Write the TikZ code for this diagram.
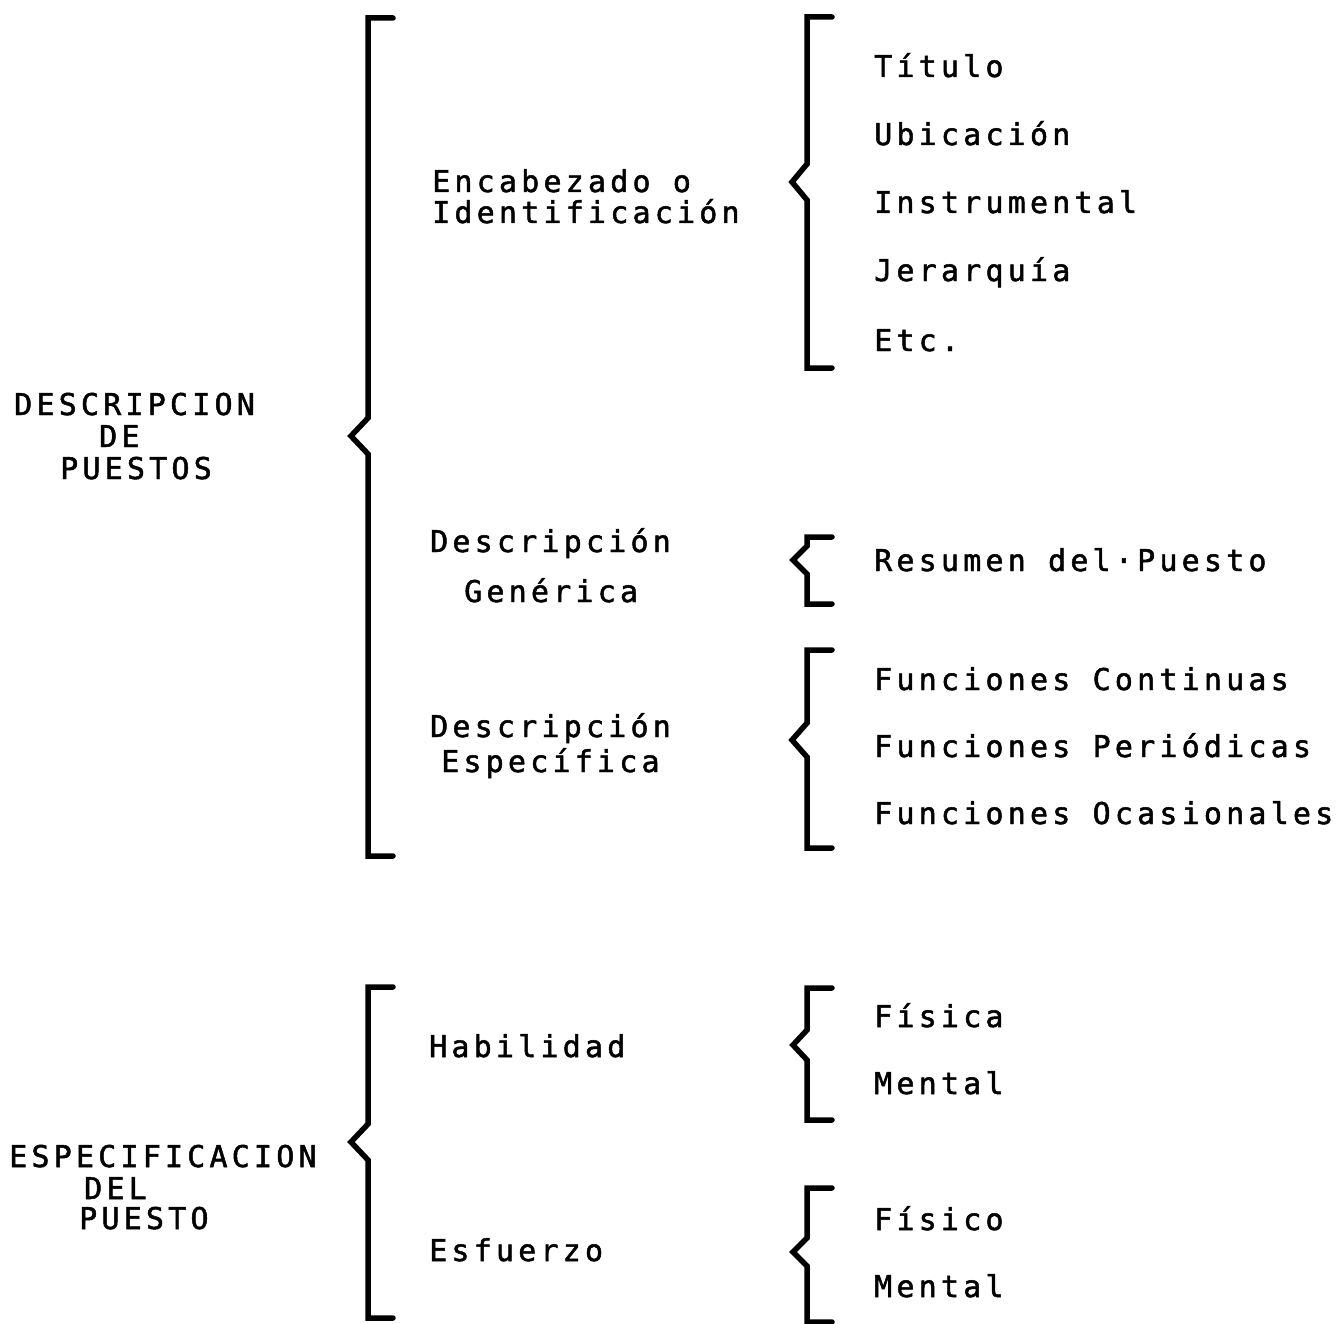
\documentclass[tikz,border=0pt]{standalone}
\usepackage{fontspec}
\newfontfamily\typewriter[LetterSpace=14,FakeBold=1.6]{DejaVu Sans Mono}
% #1 x of the spine, #2 top, #3 centre of the notch, #4 bottom,
% #5 depth of the notch, #6 half height of the notch
\newcommand\groupbrace[6]{%
  \draw[brace] ({#1+25},#2) -- (#1,#2) -- (#1,{#3-#6}) -- ({#1-#5},#3)
    -- (#1,{#3+#6}) -- (#1,#4) -- ({#1+25},#4);}
\begin{document}
\begin{tikzpicture}[x=1pt,y=-1pt,
  lbl/.style={anchor=base west, inner sep=0pt,
    font=\typewriter\fontsize{30}{32}\selectfont},
  brace/.style={line width=5.5pt, line cap=round, line join=miter}]
\useasboundingbox[fill=white] (0,0) rectangle (1338,1324);

% ---- first level ----
\node[lbl] (dp1) at (14,415) {DESCRIPCION};
\node[lbl] (dp2) at (99,447) {DE};
\node[lbl] (dp3) at (60,479) {PUESTOS};

\node[lbl] (ep1) at (9,1167) {ESPECIFICACION};
\node[lbl] (ep2) at (84,1199) {DEL};
\node[lbl] (ep3) at (79,1229) {PUESTO};

\groupbrace{368}{18}{436}{856}{17}{18}
\groupbrace{368}{987}{1142}{1318}{17}{18}

% ---- second level ----
\node[lbl] (enc1) at (432,192) {Encabezado o};
\node[lbl] (enc2) at (432,223) {Identificación};
\node[lbl] (gen1) at (430,552) {Descripción};
\node[lbl] (gen2) at (464,602) {Genérica};
\node[lbl] (esp1) at (430,737) {Descripción};
\node[lbl] (esp2) at (441,772) {Específica};
\node[lbl] (hab) at (429,1057) {Habilidad};
\node[lbl] (esf) at (429,1261) {Esfuerzo};

\groupbrace{807}{17}{182}{368}{15}{18}
\groupbrace{807}{537}{560}{604}{14}{14}
\groupbrace{807}{650}{740}{848}{15}{17}
\groupbrace{807}{988}{1045}{1120}{14}{15}
\groupbrace{807}{1188}{1252}{1322}{14}{14}

% ---- third level ----
\node[lbl] (t1) at (874,77) {Título};
\node[lbl] (t2) at (874,145) {Ubicación};
\node[lbl] (t3) at (874,213) {Instrumental};
\node[lbl] (t4) at (874,281) {Jerarquía};
\node[lbl] (t5) at (874,351) {Etc.};
\node[lbl] (r1) at (874,571) {Resumen del·Puesto};
\node[lbl] (f1) at (874,690) {Funciones Continuas};
\node[lbl] (f2) at (874,757) {Funciones Periódicas};
\node[lbl] (f3) at (874,824) {Funciones Ocasionales};
\node[lbl] (h1) at (874,1027) {Física};
\node[lbl] (h2) at (874,1094) {Mental};
\node[lbl] (e1) at (874,1230) {Físico};
\node[lbl] (e2) at (874,1297) {Mental};
\end{tikzpicture}
\end{document}
